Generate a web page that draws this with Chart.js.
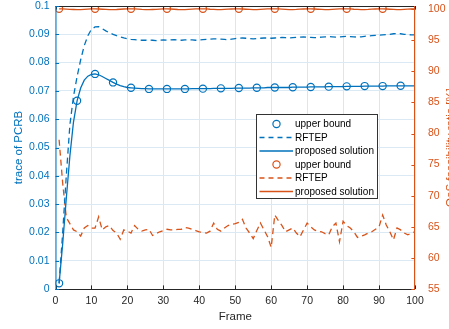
<!DOCTYPE html>
<html>
<head>
<meta charset="utf-8">
<script src="https://cdn.jsdelivr.net/npm/chart.js@4.4.1/dist/chart.umd.min.js"></script>
<style>
  html, body { margin: 0; padding: 0; background: #ffffff; }
  #wrap { width: 449px; height: 329px; }
</style>
</head>
<body>
<div id="wrap"><canvas id="c" width="449" height="329"></canvas></div>
<script>
// ---------------- DATA ----------------
const frames = [1,2,3,4,5,6,7,8,9,10,11,12,13,14,15,16,17,18,19,20,21,22,23,24,25,26,27,28,29,30,
  31,32,33,34,35,36,37,38,39,40,41,42,43,44,45,46,47,48,49,50,51,52,53,54,55,56,57,58,59,60,
  61,62,63,64,65,66,67,68,69,70,71,72,73,74,75,76,77,78,79,80,81,82,83,84,85,86,87,88,89,90,
  91,92,93,94,95,96,97,98,99,100];

// left axis: trace of PCRB
const pcrbProposed = [0.0020,0.0160,0.0320,0.0470,0.0590,0.0665,0.0710,0.0738,0.0752,0.0758,
  0.0760,0.0757,0.0751,0.0744,0.0737,0.0730,0.0724,0.0719,0.0715,0.0712,
  0.0711,0.0710,0.0709,0.0708,0.0708,0.0707,0.0707,0.0707,0.0707,0.0707,
  0.0707,0.0707,0.0707,0.0707,0.0707,0.0707,0.0707,0.0708,0.0708,0.0708,
  0.0708,0.0708,0.0708,0.0709,0.0709,0.0709,0.0709,0.0709,0.0709,0.0710,
  0.0710,0.0710,0.0710,0.0710,0.0711,0.0711,0.0711,0.0711,0.0712,0.0712,
  0.0712,0.0712,0.0712,0.0712,0.0712,0.0713,0.0713,0.0713,0.0713,0.0713,
  0.0714,0.0714,0.0714,0.0714,0.0714,0.0715,0.0715,0.0715,0.0715,0.0715,
  0.0716,0.0716,0.0716,0.0716,0.0716,0.0717,0.0717,0.0717,0.0717,0.0717,
  0.0717,0.0718,0.0718,0.0718,0.0718,0.0718,0.0718,0.0718,0.0718,0.0718];

const pcrbRFTEP = [0.0020,0.0200,0.0400,0.0580,0.0680,0.0750,0.0810,0.0860,0.0895,0.0918,
  0.0926,0.0927,0.0920,0.0912,0.0905,0.0900,0.0895,0.0891,0.0887,0.0884,
  0.0882,0.0881,0.0880,0.0879,0.0879,0.0880,0.0879,0.0878,0.0879,0.0880,
  0.0879,0.0880,0.0881,0.0880,0.0879,0.0880,0.0881,0.0880,0.0879,0.0880,
  0.0881,0.0882,0.0883,0.0884,0.0884,0.0883,0.0882,0.0881,0.0883,0.0885,
  0.0886,0.0887,0.0886,0.0885,0.0884,0.0885,0.0886,0.0887,0.0887,0.0886,
  0.0887,0.0888,0.0889,0.0888,0.0887,0.0888,0.0889,0.0890,0.0891,0.0890,
  0.0889,0.0888,0.0889,0.0890,0.0891,0.0892,0.0891,0.0890,0.0891,0.0892,
  0.0893,0.0892,0.0891,0.0890,0.0891,0.0893,0.0894,0.0895,0.0896,0.0897,
  0.0898,0.0899,0.0900,0.0902,0.0903,0.0902,0.0900,0.0899,0.0898,0.0898];

const pcrbBoundFrames = [1,6,11,16,21,26,31,36,41,46,51,56,61,66,71,76,81,86,91,96];
const pcrbBound = [0.0020,0.0665,0.0760,0.0730,0.0711,0.0707,0.0707,0.0707,0.0708,0.0709,
  0.0710,0.0711,0.0712,0.0713,0.0714,0.0715,0.0716,0.0717,0.0717,0.0718];

// right axis: QoS feasibility ratio [%]
const qosProposed = [100.05,100.03,100.00,99.97,99.94,99.92,99.93,99.96,100.00,100.03,
  100.05,100.02,99.98,99.95,99.92,99.92,99.94,99.98,100.02,100.04,
  100.05,100.03,99.99,99.95,99.93,99.92,99.94,99.97,100.01,100.04,
  100.05,100.02,99.98,99.94,99.92,99.93,99.96,100.00,100.03,100.04,
  100.05,100.03,99.98,99.95,99.93,99.92,99.95,99.99,100.02,100.04,
  100.05,100.02,99.98,99.95,99.92,99.93,99.96,100.00,100.03,100.04,
  100.05,100.03,99.99,99.95,99.92,99.93,99.95,99.99,100.02,100.04,
  100.05,100.02,99.98,99.95,99.93,99.93,99.96,100.00,100.03,100.04,
  100.05,100.03,99.98,99.95,99.92,99.93,99.95,99.99,100.02,100.04,
  100.05,100.02,99.98,99.95,99.93,99.93,99.96,99.99,100.02,100.03];

const qosRFTEP = [79.0,72.0,66.5,65.5,64.5,64.2,63.5,64.8,65.2,64.8,
  64.8,66.6,64.5,65.0,65.2,64.4,64.0,63.0,64.5,64.3,
  64.0,65.2,64.6,64.3,64.5,64.6,63.6,63.9,64.2,64.4,
  64.6,64.5,64.5,64.6,64.6,64.9,64.8,64.6,64.4,64.2,
  64.1,64.0,64.3,65.6,64.6,64.3,64.8,65.2,65.4,65.5,
  65.7,66.2,64.8,64.0,63.1,64.4,65.6,64.5,63.4,61.7,
  66.9,66.0,65.2,64.2,64.5,64.8,64.0,63.4,64.5,65.6,
  65.0,64.5,64.3,64.2,63.9,63.7,65.0,65.6,62.6,65.9,
  65.2,64.8,64.2,63.3,63.5,63.7,64.0,64.2,64.6,65.0,
  66.9,65.3,64.2,62.9,64.8,64.5,64.0,63.7,64.0,64.2];

const qosBoundFrames = [1,11,21,31,41,51,61,71,81,91];
const qosBound = [100.05,100.05,100.05,100.05,100.05,100.05,100.05,100.05,100.05,100.05];

// tick labels
const xTicks = [0,10,20,30,40,50,60,70,80,90,100];
const leftTicks = [0,0.01,0.02,0.03,0.04,0.05,0.06,0.07,0.08,0.09,0.1];
const rightTicks = [55,60,65,70,75,80,85,90,95,100];

const seriesNames = ['upper bound','RFTEP','proposed solution'];
const axisTitles = { x: 'Frame', left: 'trace of PCRB', right: 'QoS feasibility ratio [%]' };

// ---------------- STYLE ----------------
const BLUE = '#0072BD';
const ORANGE = '#D95319';
const DARK = '#262626';
const FONT = '"Liberation Sans", Arial, Helvetica, sans-serif';
Chart.defaults.font.family = FONT;

function pts(xs, ys) { return xs.map((x, i) => ({ x: x, y: ys[i] })); }

const datasets = [
  { label: seriesNames[0], data: pts(pcrbBoundFrames, pcrbBound), yAxisID: 'y',
    showLine: false, borderColor: BLUE, backgroundColor: 'rgba(0,0,0,0)',
    pointRadius: 3.6, pointBorderWidth: 1.2, pointStyle: 'circle', kind: 'marker' },
  { label: seriesNames[1], data: pts(frames, pcrbRFTEP), yAxisID: 'y',
    borderColor: BLUE, borderWidth: 1.3, borderDash: [6, 4], pointRadius: 0, kind: 'dash' },
  { label: seriesNames[2], data: pts(frames, pcrbProposed), yAxisID: 'y',
    borderColor: BLUE, borderWidth: 1.3, pointRadius: 0, kind: 'solid' },
  { label: seriesNames[0], data: pts(qosBoundFrames, qosBound), yAxisID: 'y1',
    showLine: false, borderColor: ORANGE, backgroundColor: 'rgba(0,0,0,0)',
    pointRadius: 3.6, pointBorderWidth: 1.2, pointStyle: 'circle', kind: 'marker' },
  { label: seriesNames[1], data: pts(frames, qosRFTEP), yAxisID: 'y1',
    borderColor: ORANGE, borderWidth: 1.3, borderDash: [6, 4], pointRadius: 0, kind: 'dash' },
  { label: seriesNames[2], data: pts(frames, qosProposed), yAxisID: 'y1',
    borderColor: ORANGE, borderWidth: 1.3, pointRadius: 0, kind: 'solid' }
];

// ---------------- PLUGINS ----------------
const matlabAxes = {
  id: 'matlabAxes',
  afterDatasetsDraw(chart) {
    const ctx = chart.ctx;
    const a = chart.chartArea;
    const xs = chart.scales.x, yl = chart.scales.y, yr = chart.scales.y1;
    const tl = 3.6;
    ctx.save();
    ctx.lineWidth = 1;
    ctx.strokeStyle = DARK;
    ctx.beginPath();
    ctx.moveTo(a.left, a.bottom + 0.5); ctx.lineTo(a.right, a.bottom + 0.5);
    ctx.moveTo(a.left, a.top + 0.5); ctx.lineTo(a.right, a.top + 0.5);
    xTicks.forEach(v => {
      const px = Math.round(xs.getPixelForValue(v)) + 0.5;
      ctx.moveTo(px, a.bottom); ctx.lineTo(px, a.bottom - tl);
      ctx.moveTo(px, a.top); ctx.lineTo(px, a.top + tl);
    });
    ctx.stroke();
    ctx.strokeStyle = BLUE;
    ctx.beginPath();
    ctx.moveTo(a.left + 0.5, a.top); ctx.lineTo(a.left + 0.5, a.bottom + 1);
    leftTicks.forEach(v => {
      const py = Math.round(yl.getPixelForValue(v)) + 0.5;
      ctx.moveTo(a.left, py); ctx.lineTo(a.left + tl, py);
    });
    ctx.stroke();
    ctx.strokeStyle = ORANGE;
    ctx.beginPath();
    ctx.moveTo(a.right - 0.5, a.top); ctx.lineTo(a.right - 0.5, a.bottom + 1);
    rightTicks.forEach(v => {
      const py = Math.round(yr.getPixelForValue(v)) + 0.5;
      ctx.moveTo(a.right, py); ctx.lineTo(a.right - tl, py);
    });
    ctx.stroke();
    ctx.fillStyle = ORANGE;
    ctx.font = '11.5px ' + FONT;
    ctx.textAlign = 'center';
    ctx.textBaseline = 'middle';
    ctx.translate(451, (a.top + a.bottom) / 2);
    ctx.rotate(-Math.PI / 2);
    ctx.fillText(axisTitles.right, 0, 0);
    ctx.restore();
  }
};

const boxLegend = {
  id: 'boxLegend',
  afterDraw(chart) {
    const ctx = chart.ctx;
    const bx = 256.5, by = 114.5, bw = 121, bh = 84;
    const rowH = 13.5, firstY = 124;
    ctx.save();
    ctx.fillStyle = '#ffffff';
    ctx.fillRect(bx, by, bw, bh);
    ctx.strokeStyle = '#333333';
    ctx.lineWidth = 1;
    ctx.strokeRect(bx, by, bw, bh);
    ctx.font = '10px ' + FONT;
    ctx.textBaseline = 'middle';
    ctx.textAlign = 'left';
    chart.data.datasets.forEach((ds, i) => {
      const y = firstY + i * rowH;
      ctx.strokeStyle = ds.borderColor;
      if (ds.kind === 'marker') {
        ctx.lineWidth = 1.2;
        ctx.setLineDash([]);
        ctx.beginPath();
        ctx.arc(276.5, y, 3.6, 0, Math.PI * 2);
        ctx.stroke();
      } else {
        ctx.lineWidth = 1.3;
        ctx.setLineDash(ds.kind === 'dash' ? [5, 4] : []);
        ctx.beginPath();
        ctx.moveTo(259.5, y); ctx.lineTo(293, y);
        ctx.stroke();
      }
      ctx.setLineDash([]);
      ctx.fillStyle = '#000000';
      ctx.fillText(ds.label, 295, y + 0.5);
    });
    ctx.restore();
  }
};

// ---------------- CHART ----------------
new Chart(document.getElementById('c'), {
  type: 'line',
  data: { datasets: datasets },
  plugins: [matlabAxes, boxLegend],
  options: {
    responsive: false,
    animation: false,
    layout: { padding: { top: 0, left: 0, right: 0, bottom: 0 } },
    plugins: { legend: { display: false }, tooltip: { enabled: false } },
    elements: { line: { tension: 0 } },
    scales: {
      x: {
        type: 'linear', min: 0, max: 100,
        afterBuildTicks: s => { s.ticks = xTicks.map(v => ({ value: v })); },
        afterFit: s => { s.height = 40; },
        grid: { color: '#e4e4e4', lineWidth: 1, drawTicks: false },
        border: { display: false },
        ticks: { color: DARK, font: { size: 10.5 }, padding: 6, maxRotation: 0 },
        title: { display: true, text: axisTitles.x, color: DARK, font: { size: 11.5 },
                 padding: { top: 0, bottom: 5 } }
      },
      y: {
        type: 'linear', position: 'left', min: 0, max: 0.1,
        afterBuildTicks: s => { s.ticks = leftTicks.map(v => ({ value: v })); },
        afterFit: s => { s.width = 55.5; s.paddingTop = 6; s.paddingBottom = 6; },
        grid: { color: '#dbe9f4', lineWidth: 1, drawTicks: false },
        border: { display: false },
        ticks: { color: BLUE, font: { size: 10.5 }, padding: 6,
                 callback: v => String(Math.round(v * 100) / 100) },
        title: { display: true, text: axisTitles.left, color: BLUE, font: { size: 11.5 },
                 padding: { top: 12, bottom: 0 } }
      },
      y1: {
        type: 'linear', position: 'right', min: 55, max: 100.5,
        afterBuildTicks: s => { s.ticks = rightTicks.map(v => ({ value: v })); },
        afterFit: s => { s.width = 34; s.paddingTop = 6; s.paddingBottom = 6; },
        grid: { display: false, drawOnChartArea: false },
        border: { display: false },
        ticks: { color: ORANGE, font: { size: 10.5 }, padding: 5 }
      }
    }
  }
});
</script>
</body>
</html>
